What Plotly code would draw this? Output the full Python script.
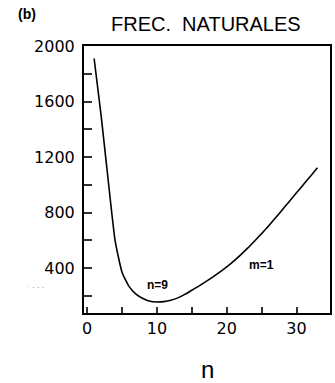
import plotly.graph_objects as go

n_vals = [1, 2, 3, 4, 5, 6, 7, 8, 9, 10, 11, 12, 13, 14, 15, 16, 17, 18, 19, 20,
          21, 22, 23, 24, 25, 26, 27, 28, 29, 30, 31, 32, 33]
freq = [1910, 1500, 1040, 600, 370, 268, 212, 180, 160, 155, 158, 168, 185, 210,
        240, 270, 302, 335, 370, 408, 450, 495, 543, 595, 648, 703, 762, 822, 882,
        942, 1002, 1062, 1122]

y_tick_vals = [200, 400, 600, 800, 1000, 1200, 1400, 1600, 1800, 2000]
y_tick_text = ["", "400", "", "800", "", "1200", "", "1600", "", "2000"]
x_tick_vals = [0, 5, 10, 15, 20, 25, 30]
x_tick_text = ["0", "", "10", "", "20", "", "30"]

tick_font = "DejaVu Sans, sans-serif"
text_font = "Liberation Sans, Arial, sans-serif"
tick_color = "#333333"

fig = go.Figure()
fig.add_trace(go.Scatter(x=n_vals, y=freq, mode="lines",
                         line=dict(color="black", width=1.6, shape="spline", smoothing=0.5),
                         showlegend=False, hoverinfo="skip"))

fig.add_annotation(x=10.1, y=278, text="<b>n=9</b>", showarrow=False,
                   font=dict(size=12, family=text_font, color="black"))
fig.add_annotation(x=25, y=422, text="<b>m=1</b>", showarrow=False,
                   font=dict(size=12, family=text_font, color="black"))

fig.add_annotation(xref="paper", yref="paper", x=-0.23, y=1.12, text="<b>(b)</b>",
                   showarrow=False, xanchor="center", yanchor="middle",
                   font=dict(size=14, family=text_font, color="black"))
fig.add_annotation(xref="paper", yref="paper", x=0.495, y=1.082, text="FREC.  NATURALES",
                   showarrow=False, xanchor="center", yanchor="middle",
                   font=dict(size=20, family=text_font, color="black"))
fig.add_annotation(xref="paper", yref="paper", x=0.5, y=-0.213, text="n",
                   showarrow=False, xanchor="center", yanchor="middle",
                   font=dict(size=24, family=text_font, color="black"))
fig.add_annotation(xref="paper", yref="paper", x=-0.195, y=0.1, text="· - - -",
                   showarrow=False, xanchor="center", yanchor="middle",
                   font=dict(size=8, family=text_font, color="#aaaaaa"))

fig.update_xaxes(range=[-0.45, 34.8], tickmode="array", tickvals=x_tick_vals,
                 ticktext=x_tick_text, ticks="inside", ticklen=6,
                 tickwidth=2, tickcolor=tick_color, showline=True, linewidth=2,
                 linecolor="black", mirror=True, showgrid=False, zeroline=False,
                 tickfont=dict(size=16, family=tick_font, color="black"))
fig.update_yaxes(range=[76, 2000], tickmode="array", tickvals=y_tick_vals,
                 ticktext=y_tick_text, ticks="inside", ticklen=8,
                 tickwidth=2, tickcolor=tick_color, showline=True, linewidth=2,
                 linecolor="black", mirror=True, showgrid=False, zeroline=False,
                 ticklabelstandoff=4,
                 tickfont=dict(size=16, family=tick_font, color="black"))

fig.update_layout(width=335, height=383, margin=dict(l=84, r=3, t=46, b=70),
                  paper_bgcolor="white", plot_bgcolor="white")

fig.write_html("out.html")
